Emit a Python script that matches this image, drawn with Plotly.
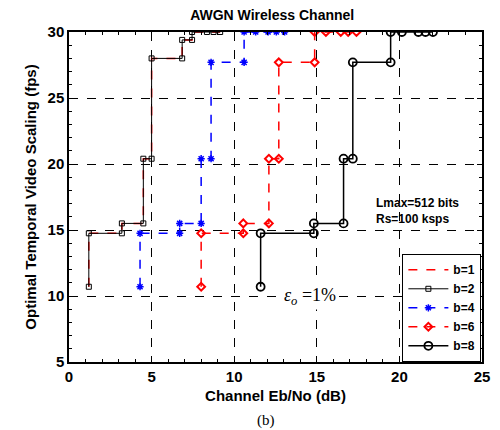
import plotly.graph_objects as go

# Step-curve data (x: Eb/No in dB, y: fps)
b2_x = [1.2, 1.2, 3.2, 3.2, 4.5, 4.5, 5.0, 5.0, 6.85, 6.85, 7.45, 7.45, 8.35, 8.75, 9.15]
b2_y = [10.7, 14.75, 14.75, 15.5, 15.5, 20.4, 20.4, 28.0, 28.0, 29.4, 29.4, 30, 30, 30, 30]
b1_x = b2_x
b1_y = b2_y
b4_x = [4.3, 4.3, 6.7, 6.7, 8.0, 8.0, 8.6, 8.6, 10.6, 10.6, 11.3, 12.05, 12.55, 13.05]
b4_y = [10.7, 14.75, 14.75, 15.5, 15.5, 20.4, 20.4, 27.7, 27.7, 30, 30, 30, 30, 30]
b6_x = [8.0, 8.0, 10.55, 10.55, 12.1, 12.1, 12.7, 12.7, 14.87, 14.87, 15.55, 16.45, 16.9, 17.4]
b6_y = [10.7, 14.75, 14.75, 15.5, 15.5, 20.4, 20.4, 27.7, 27.7, 30, 30, 30, 30, 30]
b8_x = [11.6, 11.6, 14.82, 14.82, 16.62, 16.62, 17.18, 17.18, 19.47, 19.47, 20.15, 21.15, 21.58, 22.03]
b8_y = [10.7, 14.75, 14.75, 15.5, 15.5, 20.4, 20.4, 27.7, 27.7, 30, 30, 30, 30, 30]

x_ticks = [0, 5, 10, 15, 20, 25]
y_ticks = [5, 10, 15, 20, 25, 30]

SANS = "Arial, Liberation Sans, sans-serif"
SERIF = "Times New Roman, Liberation Serif, serif"

fig = go.Figure()
fig.add_trace(go.Scatter(x=b1_x, y=b1_y, mode="lines", name="b=1",
                         line=dict(color="red", width=1.5, dash="dash")))
fig.add_trace(go.Scatter(x=b2_x, y=b2_y, mode="lines+markers", name="b=2",
                         line=dict(color="black", width=1),
                         marker=dict(symbol="square-open", size=5, color="black", line=dict(width=1))))
fig.add_trace(go.Scatter(x=b4_x, y=b4_y, mode="lines+markers", name="b=4",
                         line=dict(color="blue", width=1.5, dash="dash"),
                         marker=dict(symbol="asterisk-open", size=6, color="blue", line=dict(width=1.5, color="blue"))))
fig.add_trace(go.Scatter(x=b6_x, y=b6_y, mode="lines+markers", name="b=6",
                         line=dict(color="red", width=1.5, dash="dash"),
                         marker=dict(symbol="diamond-open", size=6, color="red", line=dict(width=2, color="red"))))
fig.add_trace(go.Scatter(x=b8_x, y=b8_y, mode="lines+markers", name="b=8",
                         line=dict(color="black", width=1.5),
                         marker=dict(symbol="circle-open", size=8, color="black", line=dict(width=1.8, color="black"))))

axis_common = dict(showline=True, linecolor="black", linewidth=1.5, mirror="ticks",
                   ticks="inside", ticklen=5, tickcolor="black",
                   showgrid=True, gridcolor="black", gridwidth=0.8, griddash="dash",
                   zeroline=False,
                   tickfont=dict(family=SANS, size=15, color="black", weight="bold"),
                   minor=dict(ticks="inside", ticklen=3, tickcolor="black", dtick=1, showgrid=False))

fig.update_xaxes(range=[0, 25], tickvals=x_ticks, ticktext=[str(v) for v in x_ticks],
                 title=dict(text="Channel Eb/No (dB)", standoff=7,
                            font=dict(family=SANS, size=15, color="black", weight="bold")),
                 **axis_common)
fig.update_yaxes(range=[5, 30], tickvals=y_ticks, ticktext=[str(v) for v in y_ticks],
                 title=dict(text="Optimal Temporal Video Scaling (fps)", standoff=7,
                            font=dict(family=SANS, size=15, color="black", weight="bold")),
                 **axis_common)

# The page body adds an 8px offset, so the figure is drawn 8px smaller
fig.update_layout(
    width=492, height=422,
    margin=dict(l=61, r=10, t=24, b=68),
    paper_bgcolor="white", plot_bgcolor="white",
    title=dict(text="AWGN Wireless Channel", xref="paper", x=0.492, xanchor="center",
               y=1 - 7 / 422, yanchor="middle",
               font=dict(family=SANS, size=14, color="black", weight="bold")),
    legend=dict(x=0.998, y=0.327, xanchor="right", yanchor="top",
                bgcolor="white", bordercolor="black", borderwidth=1.2,
                font=dict(family=SANS, size=12, color="black", weight="bold"),
                tracegroupgap=0, itemwidth=40),
    showlegend=True,
)

fig.add_annotation(x=0.739, y=0.458, xref="paper", yref="paper", xanchor="left", yanchor="middle",
                   text="Lmax=512 bits<br>Rs=100 ksps", showarrow=False, align="left",
                   font=dict(family=SANS, size=12, color="black", weight="bold"))
fig.add_annotation(x=14.6, y=10.0, xref="x", yref="y", xanchor="center", yanchor="middle",
                   text="<i>ε<sub>o</sub></i> =1%", showarrow=False, bgcolor="white",
                   font=dict(family=SERIF, size=18, color="black"))
fig.add_annotation(x=0.477, y=-0.176, xref="paper", yref="paper", xanchor="center", yanchor="middle",
                   text="(b)", showarrow=False,
                   font=dict(family=SERIF, size=15, color="black"))

fig.write_html("out.html")
